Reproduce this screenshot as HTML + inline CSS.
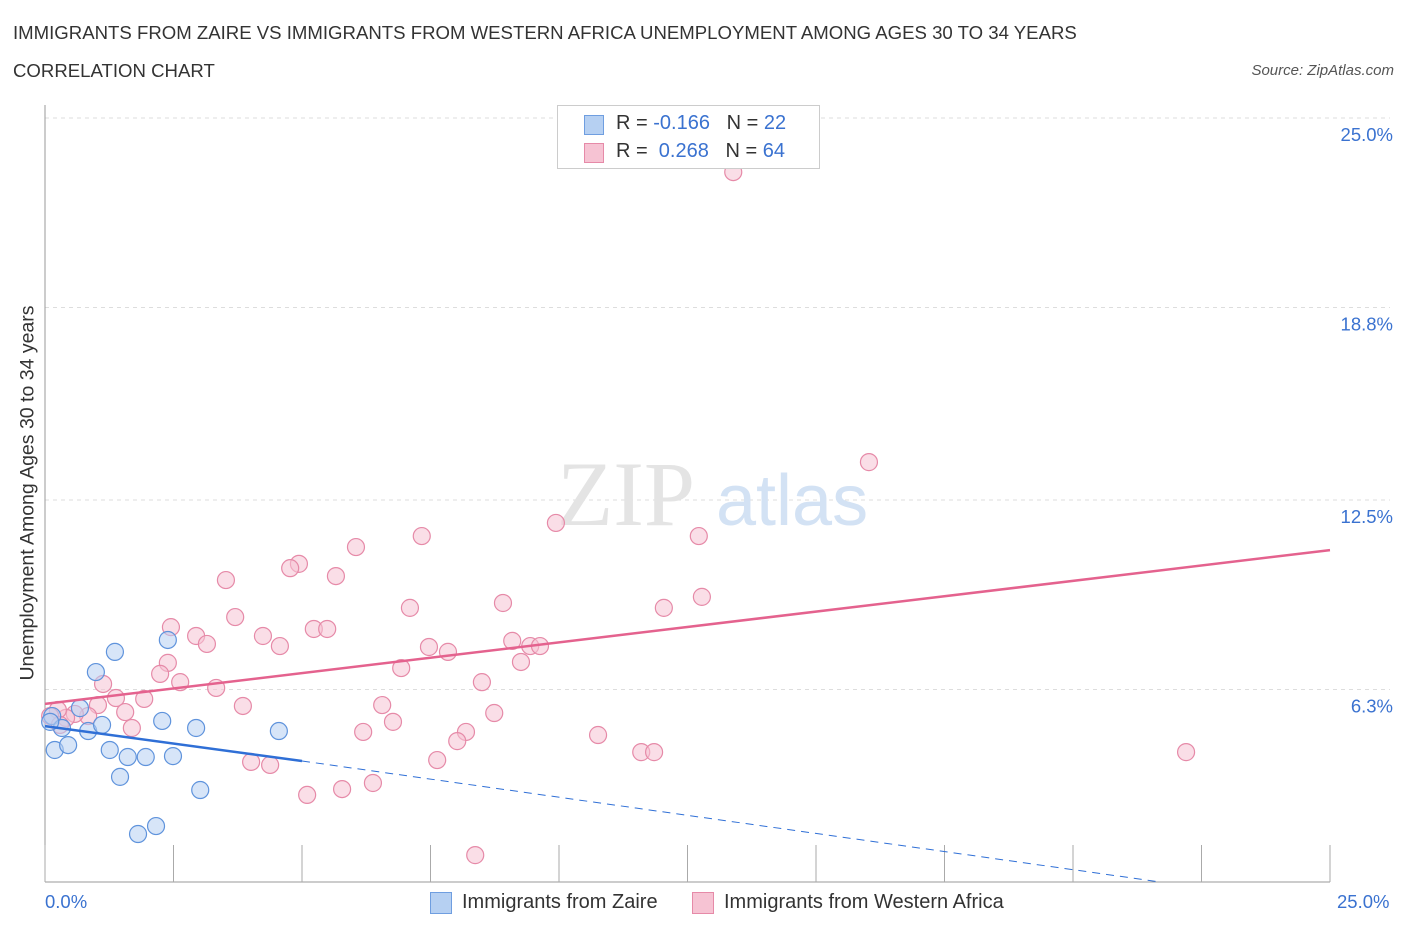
<!DOCTYPE html>
<html><head><meta charset="utf-8"><style>
body{margin:0;background:#fff;font-family:"Liberation Sans",sans-serif;}
#wrap{position:relative;width:1406px;height:930px;overflow:hidden;}
.t{position:absolute;white-space:nowrap;}
</style></head><body>
<div id="wrap">
<div class="t" style="left:13px;top:22px;font-size:18.6px;color:#333;">IMMIGRANTS FROM ZAIRE VS IMMIGRANTS FROM WESTERN AFRICA UNEMPLOYMENT AMONG AGES 30 TO 34 YEARS</div>
<div class="t" style="left:13px;top:60px;font-size:18.6px;color:#333;">CORRELATION CHART</div>
<div class="t" style="right:12px;top:62px;font-size:15px;color:#555;font-style:italic;">Source: ZipAtlas.com</div>
<svg id="svg" width="1406" height="930" style="position:absolute;left:0;top:0"></svg>
</div>
<script>
const blueX=[0.19,0.45,0.14,0.33,0.68,0.84,0.99,1.11,1.26,1.36,1.46,1.61,1.81,1.96,2.16,2.28,2.39,2.49,2.94,3.02,4.55,0.10];
const blueY=[4.32,4.48,5.43,5.04,5.69,4.94,6.87,5.14,4.32,7.53,3.44,4.09,1.57,4.09,1.83,5.27,7.92,4.12,5.04,3.01,4.94,5.24];
const pinkX=[13.39,16.03,9.94,7.33,12.72,6.05,4.94,4.77,5.66,3.52,12.78,8.91,7.10,12.04,3.70,2.45,5.23,5.49,2.94,4.24,4.57,3.15,9.09,9.44,9.63,7.47,7.84,2.39,9.26,6.93,2.24,2.63,1.13,3.33,1.93,1.38,1.03,3.85,6.56,1.56,8.74,8.50,0.84,0.58,0.41,0.25,0.10,1.69,6.77,6.19,8.19,10.76,8.02,11.60,11.85,22.20,4.01,4.38,7.63,6.38,5.78,5.10,8.37,0.29];
const pinkY=[23.23,13.74,11.75,11.32,11.32,10.96,10.41,10.27,10.01,9.88,9.33,9.13,8.97,8.97,8.67,8.34,8.28,8.28,8.05,8.05,7.72,7.79,7.89,7.72,7.72,7.69,7.53,7.17,7.20,7.00,6.81,6.54,6.48,6.35,5.99,6.02,5.79,5.76,5.79,5.56,5.53,6.54,5.43,5.50,5.37,5.63,5.43,5.04,5.24,4.91,4.91,4.81,4.61,4.25,4.25,4.25,3.93,3.83,3.99,3.24,3.04,2.85,0.88,5.14];
const yTicks=[6.3,12.5,18.8,25.0];
const yTickLabels=["6.3%","12.5%","18.8%","25.0%"];
const pinkTrend=[[0,5.83],[25,10.86]];
const blueTrend=[[0,5.10],[5,3.96],[21.7,0]];
const NS="http://www.w3.org/2000/svg";
const svg=document.getElementById('svg');
const sx=v=>45+v*51.4, sy=v=>882-v*30.56;
function mk(tag,a,p){const e=document.createElementNS(NS,tag);for(const k in a)e.setAttribute(k,a[k]);(p||svg).appendChild(e);return e;}
yTicks.forEach((t,i)=>{
 const g=mk('line',{x1:45,x2:1390,y1:sy(t),y2:sy(t),stroke:'#ddd','stroke-dasharray':'4,4'});
 
 
 const l=mk('text',{x:1393,y:sy(t)+23,'text-anchor':'end','font-size':18.5,fill:'#3a72d0','font-family':'Liberation Sans'});
 l.textContent=yTickLabels[i];
 
 
});
const ax=mk('line',{x1:45,x2:45,y1:105,y2:882,stroke:'#999'});


const bx=mk('line',{x1:45,x2:1330,y1:882,y2:882,stroke:'#999'});


for(let i=0;i<=10;i++){const tk=mk('line',{x1:45+i*128.5,x2:45+i*128.5,y1:845,y2:882,stroke:'#aaa'});
 
 }
const wm=mk('text',{x:557,y:525,'font-size':92,fill:'#e4e4e4','font-family':'Liberation Serif'});wm.textContent='ZIP';


const wm2=mk('text',{x:716,y:525,'font-size':72,fill:'#d3e2f4','font-family':'Liberation Sans'});wm2.textContent='atlas';


function pts(X,Y,fill,stroke,name){X.forEach((x,i)=>{const c=mk('circle',{cx:sx(x),cy:sy(Y[i]),r:8.5,fill:fill,'fill-opacity':0.55,stroke:stroke,'stroke-width':1.2});
 
 });}
pts(pinkX,pinkY,'#f6c3d3','#e68aa8','point-western-africa');
pts(blueX,blueY,'#b6d0f2','#5f93dc','point-zaire');
const pt=mk('line',{x1:sx(pinkTrend[0][0]),y1:sy(pinkTrend[0][1]),x2:sx(pinkTrend[1][0]),y2:sy(pinkTrend[1][1]),stroke:'#e4628e','stroke-width':2.5});


const bt=mk('line',{x1:sx(blueTrend[0][0]),y1:sy(blueTrend[0][1]),x2:sx(blueTrend[1][0]),y2:sy(blueTrend[1][1]),stroke:'#2f6fd6','stroke-width':2.5});


const bd=mk('line',{x1:sx(blueTrend[1][0]),y1:sy(blueTrend[1][1]),x2:sx(blueTrend[2][0]),y2:sy(blueTrend[2][1]),stroke:'#2f6fd6','stroke-width':1,'stroke-dasharray':'8,6'});


</script>
<div class="t" style="left:28px;top:493px;font-size:19.5px;color:#333;transform:translate(-50%,-50%) rotate(-90deg);">Unemployment Among Ages 30 to 34 years</div>
<div class="t" style="left:45px;top:891px;font-size:18.5px;color:#3a72d0;">0.0%</div>
<div class="t" style="left:1337px;top:891px;font-size:18.5px;color:#3a72d0;">25.0%</div>
<div style="position:absolute;left:557px;top:105px;width:261px;height:62px;border:1px solid #ccc;background:#fff;font-size:20px;color:#333;">
 <div style="position:absolute;left:26px;top:9px;width:18px;height:18px;background:#b6d0f2;border:1px solid #6f9ee0;"></div>
 <div class="t" style="left:58px;top:6px;">R = <span style="color:#3a72d0">-0.166</span>&nbsp;&nbsp;&nbsp;N = <span style="color:#3a72d0">22</span></div>
 <div style="position:absolute;left:26px;top:37px;width:18px;height:18px;background:#f6c3d3;border:1px solid #e68aa8;"></div>
 <div class="t" style="left:58px;top:34px;">R = &nbsp;<span style="color:#3a72d0">0.268</span>&nbsp;&nbsp;&nbsp;N = <span style="color:#3a72d0">64</span></div>
</div>
<div style="position:absolute;left:430px;top:891px;font-size:20px;color:#333;">
 <div style="position:absolute;left:0;top:1px;width:20px;height:20px;background:#b6d0f2;border:1px solid #6f9ee0;"></div>
 <div class="t" style="left:32px;top:0;">Immigrants from Zaire</div></div>
<div style="position:absolute;left:692px;top:891px;font-size:20px;color:#333;">
 <div style="position:absolute;left:0;top:1px;width:20px;height:20px;background:#f6c3d3;border:1px solid #e68aa8;"></div>
 <div class="t" style="left:32px;top:0;">Immigrants from Western Africa</div></div>
</body></html>
